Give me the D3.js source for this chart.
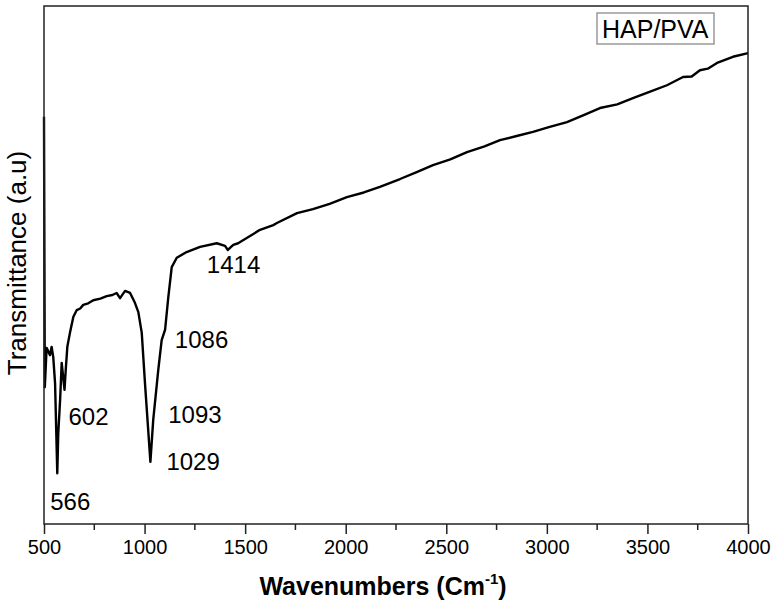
<!DOCTYPE html>
<html>
<head>
<meta charset="utf-8">
<script src="https://cdn.jsdelivr.net/npm/d3@7"></script>
<style>
  body { margin: 0; background: #fff; }
  text { font-family: Arial, "Liberation Sans", sans-serif; }
</style>
</head>
<body>
<div id="chart"></div>
<script>
// Data (transmittance in arbitrary units, 0-100)
var wavenumbers = [500, 504, 513, 530, 538, 546, 555, 566, 571, 580, 588, 602, 609, 616, 629, 646, 663, 680, 695, 720, 745,
  780, 812, 840, 861, 878, 903, 928, 952, 969, 986, 1002, 1019, 1029, 1043, 1068, 1085, 1102, 1118, 1135, 1160, 1209,
  1276, 1359, 1400, 1414, 1441, 1465, 1508, 1574, 1640, 1658, 1758, 1837, 1920, 2006, 2090, 2170, 2270, 2350, 2434, 2520, 2603,
  2690, 2767, 2850, 2931, 3010, 3100, 3180, 3264, 3350, 3428, 3510, 3597, 3677, 3720, 3761, 3800, 3846, 3925, 4000];
var transmittance = [78.6, 26.4, 34.0, 32.6, 34.2, 32.2, 27.2, 9.8, 17.6, 23.9, 31.1, 25.9, 30.3, 34.2, 36.9, 40.0, 41.3, 41.6, 42.3, 42.6, 43.2,
  43.5, 44.0, 44.2, 44.6, 43.6, 45.0, 44.6, 42.7, 40.9, 36.9, 27.2, 17.6, 12.0, 20.1, 29.7, 35.5, 37.5, 43.8, 49.6, 51.4, 52.5,
  53.5, 54.2, 53.7, 52.9, 53.9, 54.2, 55.2, 56.8, 57.7, 58.1, 60.0, 60.8, 61.8, 63.1, 64.0, 65.1, 66.6, 67.9, 69.3, 70.4, 71.8,
  72.9, 74.1, 74.9, 75.7, 76.6, 77.6, 78.9, 80.3, 81.0, 82.2, 83.4, 84.7, 86.3, 86.4, 87.6, 87.9, 89.0, 90.2, 90.9];

var xTicks = [500, 1000, 1500, 2000, 2500, 3000, 3500, 4000];
var xMinorTicks = [750, 1250, 1750, 2250, 2750, 3250, 3750];

// peak labels and where they sit
var peakLabels = ['566', '602', '1029', '1093', '1086', '1414'];
var peakX = [566, 602, 1029, 1093, 1086, 1414];
var peakY = [2.7, 19.1, 10.4, 19.5, 34.0, 48.5];

var margin = {top: 6, right: 26, bottom: 79, left: 44},
    width = 774 - margin.left - margin.right,
    height = 603 - margin.top - margin.bottom;

var svg = d3.select('#chart').append('svg')
    .attr('width', 774)
    .attr('height', 603);
var g = svg.append('g')
    .attr('transform', 'translate(' + margin.left + ',' + margin.top + ')');

var xScale = d3.scaleLinear().domain([500, 4000]).range([0, width]);
var yScale = d3.scaleLinear().domain([0, 100]).range([height, 0]);

var data = wavenumbers.map(function(w, i) { return {w: w, t: transmittance[i]}; });

// Spectrum
var line = d3.line()
    .x(function(d) { return xScale(d.w); })
    .y(function(d) { return yScale(d.t); });

g.append('path')
    .datum(data)
    .attr('d', line)
    .attr('fill', 'none')
    .attr('stroke', '#000')
    .attr('stroke-width', 2.4)
    .attr('stroke-linejoin', 'round');

// Frame
g.append('rect')
    .attr('x', 0).attr('y', 0)
    .attr('width', width).attr('height', height)
    .attr('fill', 'none')
    .attr('stroke', '#222')
    .attr('stroke-width', 1.5);

// X axis
var xAxis = g.append('g')
    .attr('transform', 'translate(0,' + height + ')')
    .call(d3.axisBottom(xScale).tickValues(xTicks).tickFormat(d3.format('d'))
        .tickSize(10).tickSizeOuter(0).tickPadding(6));
xAxis.select('.domain').remove();
xAxis.selectAll('line').attr('stroke', '#222').attr('stroke-width', 1.5);
xAxis.selectAll('text').attr('font-size', '20px').attr('fill', '#000')
    .style('font-family', 'Arial, "Liberation Sans", sans-serif');

g.append('g')
    .attr('transform', 'translate(0,' + height + ')')
    .selectAll('line')
    .data(xMinorTicks)
    .enter()
    .append('line')
    .attr('x1', function(d) { return xScale(d); })
    .attr('x2', function(d) { return xScale(d); })
    .attr('y1', 0)
    .attr('y2', 6)
    .attr('stroke', '#222')
    .attr('stroke-width', 1.5);

// Axis titles
var xt = svg.append('text')
    .attr('x', 383)
    .attr('y', 595)
    .attr('text-anchor', 'middle')
    .attr('font-size', '25px')
    .attr('font-weight', 'bold');
xt.append('tspan').text('Wavenumbers (Cm');
xt.append('tspan').text('-1').attr('font-size', '15px').attr('dy', -11);
xt.append('tspan').text(')').attr('dy', 11);

svg.append('text')
    .text('Transmittance (a.u)')
    .attr('text-anchor', 'middle')
    .attr('font-size', '26px')
    .attr('transform', 'translate(26,' + 263 + ')rotate(-90)');

// Peak labels
g.selectAll('.peak')
    .data(peakLabels)
    .enter()
    .append('text')
    .attr('class', 'peak')
    .attr('x', function(d, i) { return xScale(peakX[i]) + [-7, 4, 16, 5, 13, -21][i]; })
    .attr('y', function(d, i) { return yScale(peakY[i]); })
    .attr('font-size', '24px')
    .text(function(d) { return d; });

// Legend box
var legend = g.append('g');
legend.append('rect')
    .attr('x', 553).attr('y', 7)
    .attr('width', 117).attr('height', 31)
    .attr('fill', '#fff')
    .attr('stroke', '#999')
    .attr('stroke-width', 1.5);
legend.append('text')
    .text('HAP/PVA')
    .attr('x', 558).attr('y', 32)
    .attr('font-size', '25px');
</script>
</body>
</html>
